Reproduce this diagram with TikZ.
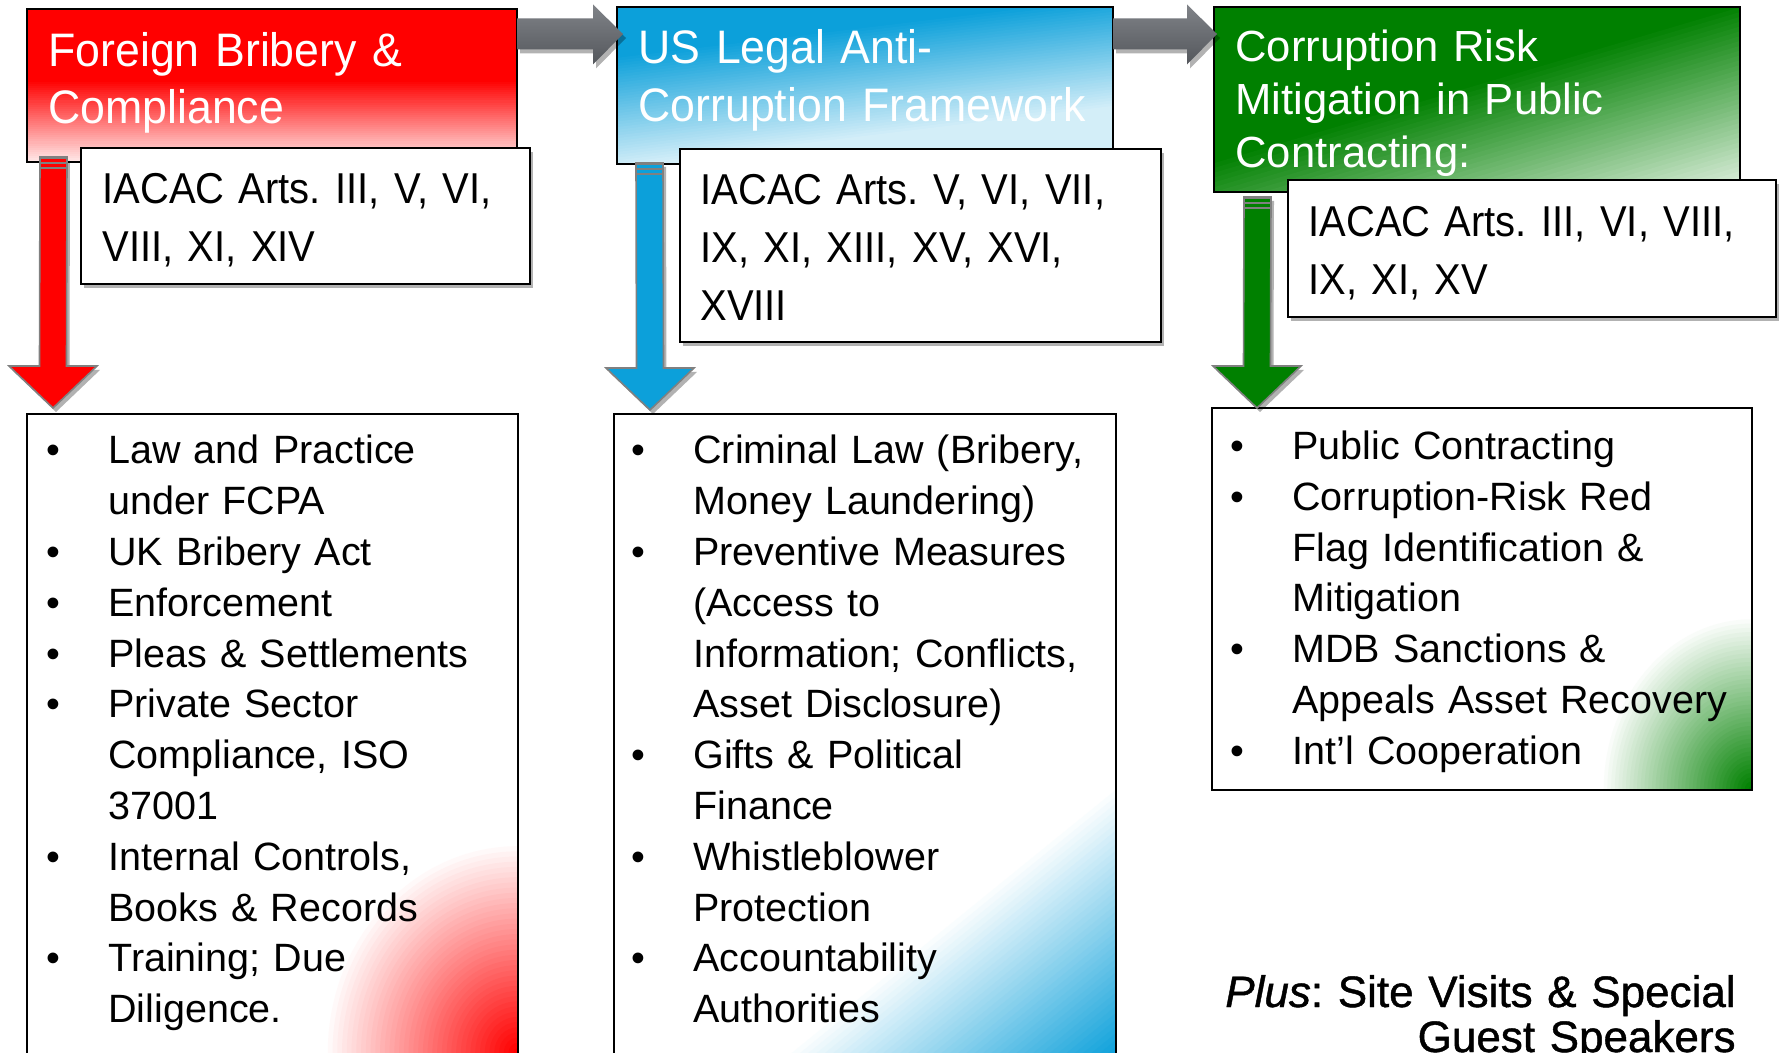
\documentclass[tikz,border=0pt]{standalone}
\usepackage{fontspec}
\setmainfont{Liberation Sans}
\newfontfamily\hdfont[FakeStretch=0.95]{Liberation Sans}
\newfontfamily\iafont[FakeStretch=0.925]{Liberation Sans}
\newfontfamily\plusfont[FakeBold=1.0]{Liberation Sans}
\usetikzlibrary{calc,shadows}
\definecolor{cRed}{RGB}{255,0,0}
\definecolor{cBlue}{RGB}{12,160,218}
\definecolor{cGreen}{RGB}{0,128,0}
\definecolor{cGrayT}{RGB}{128,131,136}
\definecolor{cGrayB}{RGB}{84,87,92}
\definecolor{cOutline}{RGB}{128,128,128}
\colorlet{redLight}{cRed!7!white}
\colorlet{blueLight}{cBlue!18!white}
\colorlet{greenLight}{cGreen!8!white}
% linear gradient: origin (#1,#2), unit normal (#3,#4), length #5, from #6 to #7, #8 steps
\newcommand\lingrad[8]{%
  \foreach \kk in {0,...,#8}{%
    \pgfmathsetmacro\dd{#5*\kk/#8}%
    \pgfmathsetmacro\pp{100*\kk/#8}%
    \fill[#7!\pp!#6] ({#1+(#3)*\dd+(#4)*3000},{#2+(#4)*\dd-(#3)*3000}) --
      ({#1+(#3)*\dd-(#4)*3000},{#2+(#4)*\dd+(#3)*3000}) --
      ({#1+(#3)*(\dd+3000)-(#4)*3000},{#2+(#4)*(\dd+3000)+(#3)*3000}) --
      ({#1+(#3)*(\dd+3000)+(#4)*3000},{#2+(#4)*(\dd+3000)-(#3)*3000}) -- cycle;
  }%
}
% radial gradient: centre (#1,#2), radii #3,#4, inner #5, outer #6, #7 steps
\newcommand\radgrad[7]{%
  \foreach \kk in {0,...,#7}{%
    \pgfmathsetmacro\ss{1-\kk/(#7+1)}%
    \pgfmathsetmacro\pp{100*\kk/#7}%
    \fill[#5!\pp!#6] (#1,#2) ellipse [x radius={#3*\ss}, y radius={#4*\ss}];
  }%
}
\newcommand\bitem[1]{\hangindent=31pt\hangafter=1\noindent\makebox[31pt][l]{\textbullet}#1\par}
\newcommand\vtarrow[3]{%
  \filldraw[fill=#3, draw=cOutline, line width=0.8pt, softshadow]
    ($(#1)+(-13.5,0)$) -- ($(#2)+(-13.5,-42)$) -- ($(#2)+(-44,-42)$) -- (#2) --
    ($(#2)+(44,-42)$) -- ($(#2)+(13.5,-42)$) -- ($(#1)+(13.5,0)$) -- cycle;
  \foreach \oo in {1,6,11}{\draw[cOutline, line width=0.9pt] ($(#1)+(-13.5,\oo)$) -- ($(#1)+(13.5,\oo)$);}%
}
\AtBeginDocument{\frenchspacing}
\begin{document}
\begin{tikzpicture}[x=0.5pt,y=-0.5pt,
  softshadow/.style={drop shadow={shadow xshift=1.5pt,shadow yshift=-2pt,opacity=0.3,fill=black}},
  boxframe/.style={draw=black,line width=0.8pt},
  boxnode/.style={rectangle,inner sep=0pt,outer sep=0pt,anchor=north west},
  hdtext/.style={anchor=base west,inner sep=0pt,text=white,align=left,text width=270pt},
  iatext/.style={anchor=base west,inner sep=0pt,align=left,text width=235pt,
    font=\iafont\fontsize{21.6pt}{29pt}\selectfont\frenchspacing},
  bltext/.style={anchor=base west,inner sep=0pt,align=left,text width=262pt,
    font=\fontsize{19.75pt}{25.4pt}\selectfont\frenchspacing},
  iabox/.style={boxnode,draw=black,line width=0.9pt,fill=white,softshadow},
  grayarrow/.style={top color=cGrayT,bottom color=cGrayB,softshadow}]
\fill[white] (0,0) rectangle (1779,1053);
\useasboundingbox (0,0) rectangle (1779,1053);

% ---------- bullet boxes ----------
\node[boxnode, minimum width=245.5pt, minimum height=328pt] (b1) at (27,414) {};
\node[boxnode, minimum width=251pt, minimum height=328pt] (b2) at (614,414) {};
\node[boxnode, minimum width=270pt, minimum height=191pt] (b3) at (1212,408) {};
\begin{scope}
  \clip (b1.north west) rectangle (b1.south east);
  \radgrad{518}{1053}{195}{212}{cRed}{white}{40}
\end{scope}
\begin{scope}
  \clip (b2.north west) rectangle (b2.south east);
  \lingrad{1116}{783}{0.63}{0.776}{210}{white}{cBlue}{40}
\end{scope}
\begin{scope}
  \clip (b3.north west) rectangle (b3.south east);
  \radgrad{1752}{790}{152}{175}{cGreen}{white}{40}
\end{scope}
\draw[boxframe] (b1.north west) rectangle (b1.south east);
\draw[boxframe] (b2.north west) rectangle (b2.south east);
\draw[boxframe] (b3.north west) rectangle (b3.south east);

\node[bltext] (b1t) at (46,464) {%
  \bitem{Law and Practice\newline under FCPA}%
  \bitem{UK Bribery Act}%
  \bitem{Enforcement}%
  \bitem{Pleas \& Settlements}%
  \bitem{Private Sector\newline Compliance, ISO\newline 37001}%
  \bitem{Internal Controls,\newline Books \& Records}%
  \bitem{Training; Due\newline Diligence.}};
\node[bltext] (b2t) at (631,464) {%
  \bitem{Criminal Law (Bribery,\newline Money Laundering)}%
  \bitem{Preventive Measures\newline (Access to\newline Information; Conflicts,\newline Asset Disclosure)}%
  \bitem{Gifts \& Political\newline Finance}%
  \bitem{Whistleblower\newline Protection}%
  \bitem{Accountability\newline Authorities}};
\node[bltext] (b3t) at (1230,459.5) {%
  \bitem{Public Contracting}%
  \bitem{Corruption-Risk Red\newline Flag Identification \&\newline Mitigation}%
  \bitem{MDB Sanctions \&\newline Appeals Asset Recovery}%
  \bitem{Int’l Cooperation}};

% ---------- headers ----------
\node[boxnode, minimum width=245pt, minimum height=76.5pt] (h1) at (27,9) {};
\node[boxnode, minimum width=248pt, minimum height=78.5pt] (h2) at (617,7) {};
\node[boxnode, minimum width=263pt, minimum height=92.5pt] (h3) at (1214,7) {};
\begin{scope}
  \clip (h1.north west) rectangle (h1.south east);
  \fill[cRed] (h1.north west) rectangle (h1.south east);
  \lingrad{27}{80}{0}{1}{82}{cRed}{redLight}{40}
\end{scope}
\begin{scope}
  \clip (h2.north west) rectangle (h2.south east);
  \fill[cBlue] (h2.north west) rectangle (h2.south east);
  \lingrad{617}{55}{0.12}{0.993}{110}{cBlue}{blueLight}{40}
\end{scope}
\begin{scope}
  \clip (h3.north west) rectangle (h3.south east);
  \fill[cGreen] (h3.north west) rectangle (h3.south east);
  \lingrad{1708.6}{11.7}{0.284}{0.958}{185}{cGreen}{greenLight}{40}
\end{scope}
\draw[boxframe] (h1.north west) rectangle (h1.south east);
\draw[boxframe] (h2.north west) rectangle (h2.south east);
\draw[boxframe] (h3.north west) rectangle (h3.south east);

\node[hdtext, font=\hdfont\fontsize{23.5pt}{28.5pt}\selectfont] (h1t) at (48,67) {Foreign Bribery \&\\Compliance};
\node[hdtext, font=\hdfont\fontsize{23.5pt}{29pt}\selectfont] (h2t) at (638,64) {US Legal Anti-\\Corruption Framework};
\node[hdtext, font=\fontsize{21.8pt}{26.5pt}\selectfont] (h3t) at (1235,62) {Corruption Risk\\Mitigation in Public\\Contracting:};

% ---------- vertical arrows ----------
\coordinate (v1s) at ($(h1.south west)+(26.5,-5)$);
\coordinate (v1e) at ($(b1.north west)+(26,-6)$);
\coordinate (v2s) at ($(h2.south west)+(32.5,-1)$);
\coordinate (v2e) at ($(b2.north west)+(36,-4)$);
\coordinate (v3s) at ($(h3.south west)+(43.5,5)$);
\coordinate (v3e) at ($(b3.north west)+(45,0)$);
\vtarrow{v1s}{v1e}{cRed}
\vtarrow{v2s}{v2e}{cBlue}
\vtarrow{v3s}{v3e}{cGreen}

% ---------- grey connector arrows ----------
\coordinate (a1s) at ($(h1.north east)+(0,25)$);
\coordinate (a1e) at ($(h2.north west)+(6,27)$);
\coordinate (a2s) at ($(h2.north east)+(0,27)$);
\coordinate (a2e) at ($(h3.north west)+(3,27)$);
\path[grayarrow] ($(a1s)+(0,-15.5)$) -- ($(a1e)+(-30,-15.5)$) -- ($(a1e)+(-30,-29.5)$) -- (a1e) --
  ($(a1e)+(-30,30.5)$) -- ($(a1e)+(-30,15.5)$) -- ($(a1s)+(0,15.5)$) -- cycle;
\path[grayarrow] ($(a2s)+(0,-15.5)$) -- ($(a2e)+(-30,-15.5)$) -- ($(a2e)+(-30,-29.5)$) -- (a2e) --
  ($(a2e)+(-30,30.5)$) -- ($(a2e)+(-30,15.5)$) -- ($(a2s)+(0,15.5)$) -- cycle;

% ---------- IACAC boxes ----------
\node[iabox, minimum width=224.5pt, minimum height=68pt] (i1) at (81,148) {};
\node[iabox, minimum width=240.5pt, minimum height=96.5pt] (i2) at (680,149) {};
\node[iabox, minimum width=244pt, minimum height=68.5pt] (i3) at (1288,180) {};
\node[iatext] (i1t) at (102,204) {IACAC Arts. III, V, VI,\\VIII, XI, XIV};
\node[iatext] (i2t) at (700,205) {IACAC Arts. V, VI, VII,\\IX, XI, XIII, XV, XVI,\\XVIII};
\node[iatext] (i3t) at (1308,237) {IACAC Arts. III, VI, VIII,\\IX, XI, XV};

% ---------- plus note ----------
\node[anchor=base east, inner sep=0pt, align=right, text width=290pt,
  font=\plusfont\fontsize{22pt}{22.5pt}\selectfont\frenchspacing] (plus) at (1736,1007)
  {\textit{Plus}: Site Visits \& Special\\Guest Speakers};
\end{tikzpicture}
\end{document}
